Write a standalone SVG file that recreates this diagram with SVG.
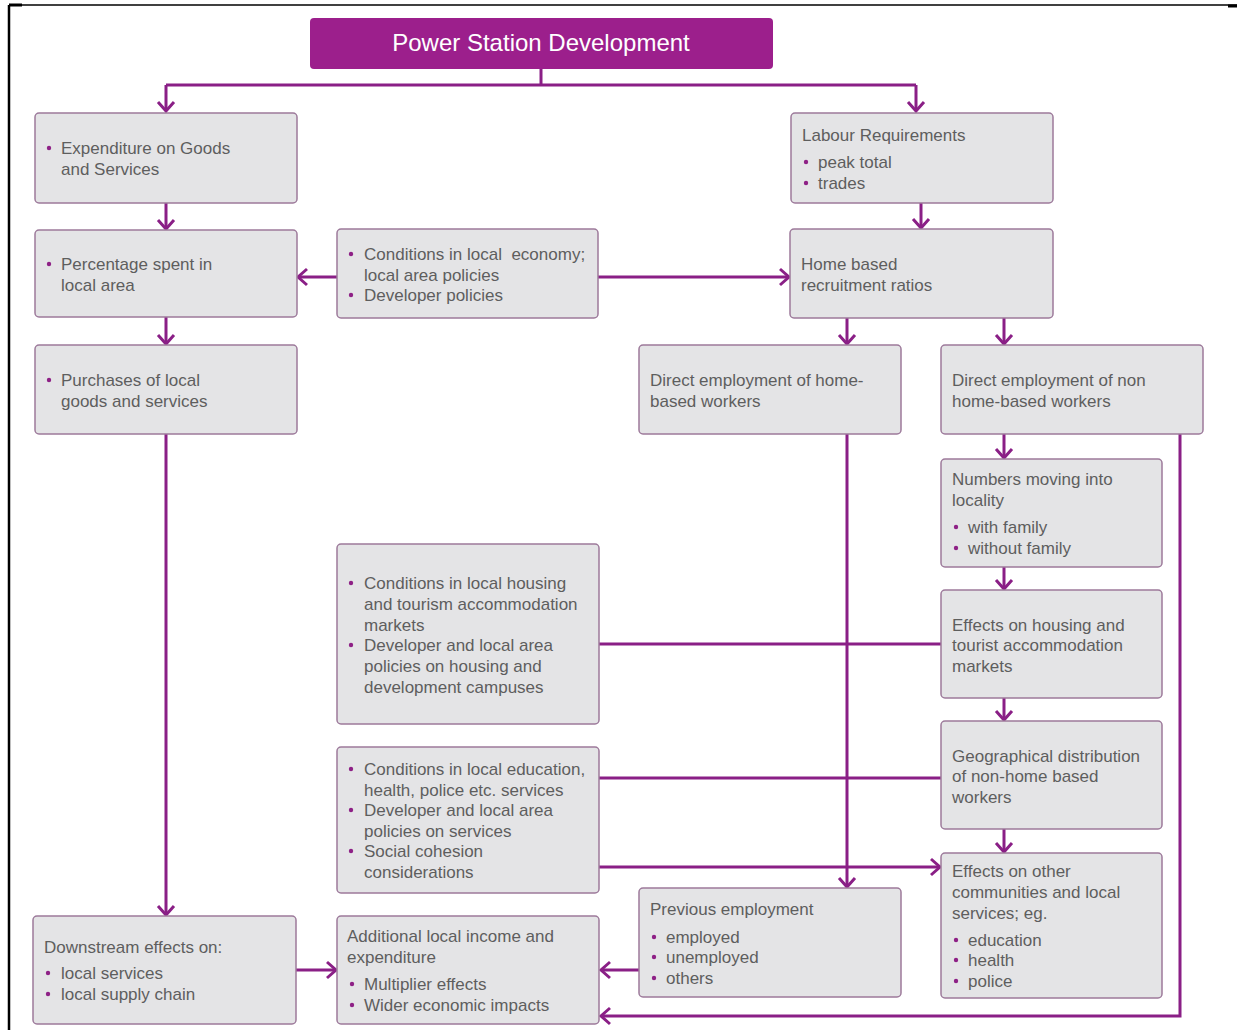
<svg xmlns="http://www.w3.org/2000/svg" width="1237" height="1030" viewBox="0 0 1237 1030">
  <style>
    .box { fill: #e4e4e6; stroke: #9d7a9b; stroke-width: 1.5; }
    .t { font-family: "Liberation Sans", Arial, sans-serif; font-size: 17px; fill: #5e5e5e; }
    .title { font-family: "Liberation Sans", Arial, sans-serif; font-size: 24px; fill: #ffffff; }
    .dot { fill: #8e2086; }
    .ln { fill: none; stroke: #8a1f86; stroke-width: 3; }
  </style>
  <defs>
    <marker id="arr" markerUnits="userSpaceOnUse" markerWidth="24" markerHeight="24" viewBox="-14 -12 18 24" refX="0" refY="0" orient="auto">
      <path d="M-9,-8 L0,0 L-9,8" fill="none" stroke="#8a1f86" stroke-width="3"/>
    </marker>
  </defs>

  <rect width="1237" height="1030" fill="#ffffff"/>

  <!-- page frame -->
  <g id="frame" stroke="#000">
    <line x1="9" y1="5" x2="1237" y2="5" stroke-width="1.5"/>
    <line x1="9" y1="5" x2="22" y2="5" stroke-width="3"/>
    <line x1="1228" y1="6" x2="1237" y2="6" stroke-width="3"/>
    <line x1="9" y1="5" x2="9" y2="1030" stroke-width="2.5"/>
  </g>

  <!-- connectors -->
  <g id="connectors" class="ln">
    <path d="M541,69 V85"/>
    <path d="M166,85 H916"/>
    <path d="M166,85 V111" marker-end="url(#arr)"/>
    <path d="M916,85 V111" marker-end="url(#arr)"/>
    <path d="M166,203 V229" marker-end="url(#arr)"/>
    <path d="M166,317 V344" marker-end="url(#arr)"/>
    <path d="M337,277 H298" marker-end="url(#arr)"/>
    <path d="M598,277 H789" marker-end="url(#arr)"/>
    <path d="M921,203 V228" marker-end="url(#arr)"/>
    <path d="M847,318 V344" marker-end="url(#arr)"/>
    <path d="M1004,318 V344" marker-end="url(#arr)"/>
    <path d="M1004,434 V458" marker-end="url(#arr)"/>
    <path d="M1004,567 V589" marker-end="url(#arr)"/>
    <path d="M1004,698 V720" marker-end="url(#arr)"/>
    <path d="M1004,829 V852" marker-end="url(#arr)"/>
    <path d="M166,434 V915" marker-end="url(#arr)"/>
    <path d="M847,434 V887" marker-end="url(#arr)"/>
    <path d="M599,644 H941"/>
    <path d="M599,778 H941"/>
    <path d="M599,867 H940" marker-end="url(#arr)"/>
    <path d="M639,970 H601" marker-end="url(#arr)"/>
    <path d="M296,970 H336" marker-end="url(#arr)"/>
    <path d="M1180,434 V1016 H601" marker-end="url(#arr)"/>
  </g>

  <!-- title -->
  <g id="n-title">
    <rect x="310" y="18" width="463" height="51" rx="4" fill="#9c1f8c"/>
    <text class="title" x="541" y="51" text-anchor="middle">Power Station Development</text>
  </g>

  <g id="n-expenditure">
    <rect class="box" x="35" y="113" width="262" height="90" rx="4"/>
    <circle class="dot" cx="49" cy="148" r="2.2"/>
    <text class="t" x="61" y="154">Expenditure on Goods</text>
    <text class="t" x="61" y="175">and Services</text>
  </g>

  <g id="n-percentage">
    <rect class="box" x="35" y="230" width="262" height="87" rx="4"/>
    <circle class="dot" cx="49" cy="264" r="2.2"/>
    <text class="t" x="61" y="270">Percentage spent in</text>
    <text class="t" x="61" y="291">local area</text>
  </g>

  <g id="n-purchases">
    <rect class="box" x="35" y="345" width="262" height="89" rx="4"/>
    <circle class="dot" cx="49" cy="380" r="2.2"/>
    <text class="t" x="61" y="386">Purchases of local</text>
    <text class="t" x="61" y="407">goods and services</text>
  </g>

  <g id="n-economy">
    <rect class="box" x="337" y="229" width="261" height="89" rx="4"/>
    <circle class="dot" cx="351" cy="254" r="2.2"/>
    <text class="t" x="364" y="260" xml:space="preserve">Conditions in local  economy;</text>
    <text class="t" x="364" y="281">local area policies</text>
    <circle class="dot" cx="351" cy="295" r="2.2"/>
    <text class="t" x="364" y="301">Developer policies</text>
  </g>

  <g id="n-labour">
    <rect class="box" x="791" y="113" width="262" height="90" rx="4"/>
    <text class="t" x="802" y="141">Labour Requirements</text>
    <circle class="dot" cx="806" cy="162" r="2.2"/>
    <text class="t" x="818" y="168">peak total</text>
    <circle class="dot" cx="806" cy="183" r="2.2"/>
    <text class="t" x="818" y="189">trades</text>
  </g>

  <g id="n-homebased">
    <rect class="box" x="790" y="229" width="263" height="89" rx="4"/>
    <text class="t" x="801" y="270">Home based</text>
    <text class="t" x="801" y="291">recruitment ratios</text>
  </g>

  <g id="n-direct-home">
    <rect class="box" x="639" y="345" width="262" height="89" rx="4"/>
    <text class="t" x="650" y="386">Direct employment of home-</text>
    <text class="t" x="650" y="407">based workers</text>
  </g>

  <g id="n-direct-nonhome">
    <rect class="box" x="941" y="345" width="262" height="89" rx="4"/>
    <text class="t" x="952" y="386">Direct employment of non</text>
    <text class="t" x="952" y="407">home-based workers</text>
  </g>

  <g id="n-moving">
    <rect class="box" x="941" y="459" width="221" height="108" rx="4"/>
    <text class="t" x="952" y="485">Numbers moving into</text>
    <text class="t" x="952" y="506">locality</text>
    <circle class="dot" cx="956" cy="527" r="2.2"/>
    <text class="t" x="968" y="533">with family</text>
    <circle class="dot" cx="956" cy="548" r="2.2"/>
    <text class="t" x="968" y="554">without family</text>
  </g>

  <g id="n-housing-conditions">
    <rect class="box" x="337" y="544" width="262" height="180" rx="4"/>
    <circle class="dot" cx="351" cy="583" r="2.2"/>
    <text class="t" x="364" y="589">Conditions in local housing</text>
    <text class="t" x="364" y="610">and tourism accommodation</text>
    <text class="t" x="364" y="631">markets</text>
    <circle class="dot" cx="351" cy="645" r="2.2"/>
    <text class="t" x="364" y="651">Developer and local area</text>
    <text class="t" x="364" y="672">policies on housing and</text>
    <text class="t" x="364" y="693">development campuses</text>
  </g>

  <g id="n-housing-effects">
    <rect class="box" x="941" y="590" width="221" height="108" rx="4"/>
    <text class="t" x="952" y="631">Effects on housing and</text>
    <text class="t" x="952" y="651">tourist accommodation</text>
    <text class="t" x="952" y="672">markets</text>
  </g>

  <g id="n-geographic">
    <rect class="box" x="941" y="721" width="221" height="108" rx="4"/>
    <text class="t" x="952" y="762">Geographical distribution</text>
    <text class="t" x="952" y="782">of non-home based</text>
    <text class="t" x="952" y="803">workers</text>
  </g>

  <g id="n-services-conditions">
    <rect class="box" x="337" y="747" width="262" height="146" rx="4"/>
    <circle class="dot" cx="351" cy="769" r="2.2"/>
    <text class="t" x="364" y="775">Conditions in local education,</text>
    <text class="t" x="364" y="796">health, police etc. services</text>
    <circle class="dot" cx="351" cy="810" r="2.2"/>
    <text class="t" x="364" y="816">Developer and local area</text>
    <text class="t" x="364" y="837">policies on services</text>
    <circle class="dot" cx="351" cy="851" r="2.2"/>
    <text class="t" x="364" y="857">Social cohesion</text>
    <text class="t" x="364" y="878">considerations</text>
  </g>

  <g id="n-other-communities">
    <rect class="box" x="941" y="853" width="221" height="145" rx="4"/>
    <text class="t" x="952" y="877">Effects on other</text>
    <text class="t" x="952" y="898">communities and local</text>
    <text class="t" x="952" y="919">services; eg.</text>
    <circle class="dot" cx="956" cy="940" r="2.2"/>
    <text class="t" x="968" y="946">education</text>
    <circle class="dot" cx="956" cy="960" r="2.2"/>
    <text class="t" x="968" y="966">health</text>
    <circle class="dot" cx="956" cy="981" r="2.2"/>
    <text class="t" x="968" y="987">police</text>
  </g>

  <g id="n-previous">
    <rect class="box" x="639" y="888" width="262" height="109" rx="4"/>
    <text class="t" x="650" y="915">Previous employment</text>
    <circle class="dot" cx="654" cy="937" r="2.2"/>
    <text class="t" x="666" y="943">employed</text>
    <circle class="dot" cx="654" cy="957" r="2.2"/>
    <text class="t" x="666" y="963">unemployed</text>
    <circle class="dot" cx="654" cy="978" r="2.2"/>
    <text class="t" x="666" y="984">others</text>
  </g>

  <g id="n-downstream">
    <rect class="box" x="33" y="916" width="263" height="108" rx="4"/>
    <text class="t" x="44" y="953">Downstream effects on:</text>
    <circle class="dot" cx="48" cy="973" r="2.2"/>
    <text class="t" x="61" y="979">local services</text>
    <circle class="dot" cx="48" cy="994" r="2.2"/>
    <text class="t" x="61" y="1000">local supply chain</text>
  </g>

  <g id="n-additional">
    <rect class="box" x="337" y="916" width="262" height="108" rx="4"/>
    <text class="t" x="347" y="942">Additional local income and</text>
    <text class="t" x="347" y="963">expenditure</text>
    <circle class="dot" cx="352" cy="984" r="2.2"/>
    <text class="t" x="364" y="990">Multiplier effects</text>
    <circle class="dot" cx="352" cy="1005" r="2.2"/>
    <text class="t" x="364" y="1011">Wider economic impacts</text>
  </g>
</svg>
